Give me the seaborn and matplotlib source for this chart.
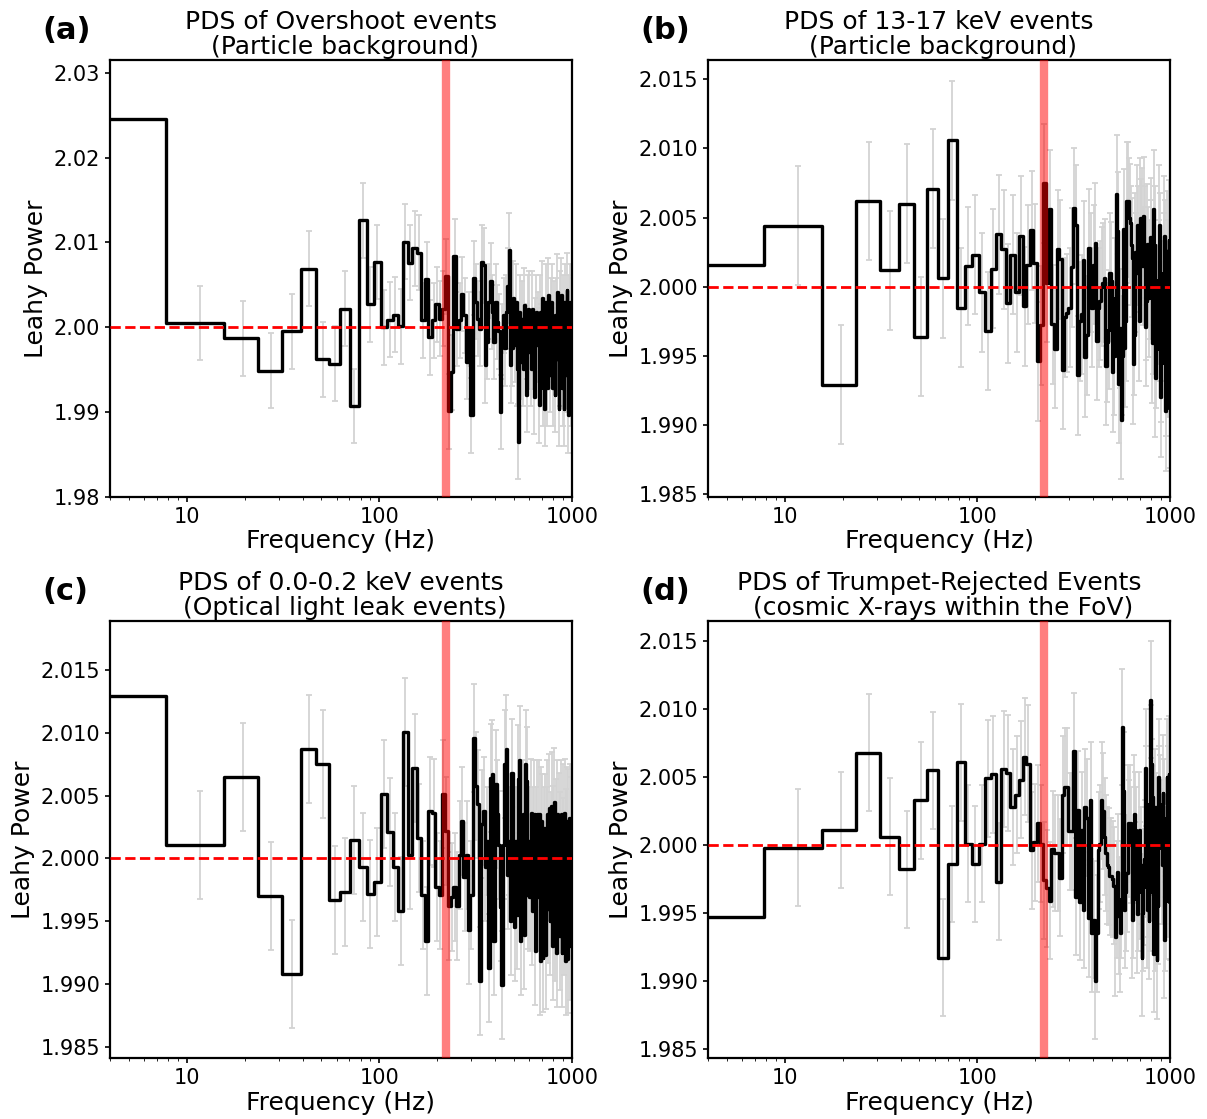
import numpy as np
import seaborn as sns
import matplotlib
matplotlib.use("Agg")
import matplotlib.pyplot as plt
from matplotlib.ticker import FormatStrFormatter, MultipleLocator, FuncFormatter

# frequency grid: 7.8125 Hz bins, values at bin centres
freq_res = 7.8125
n_bins = 128
freq = freq_res * (np.arange(n_bins) + 0.5)

# Leahy power per bin
pds_a = [2.0246, 2.0005, 1.9987, 1.9949, 1.9995, 2.0069, 1.9962, 1.9957,
         2.0022, 1.9907, 2.0126, 2.0027, 2.0077, 2.0000, 2.0009, 2.0015,
         2.0001, 2.0101, 2.0076, 2.0093, 2.0088, 2.0008, 2.0057, 1.9988,
         2.0008, 2.0027, 2.0010, 2.0022, 2.0060, 1.9901, 1.9947, 2.0084,
         1.9998, 2.0008, 2.0039, 2.0014, 1.9959, 1.9998, 1.9896, 2.0058,
         2.0030, 2.0010, 1.9998, 2.0077, 2.0073, 1.9955, 1.9983, 2.0030,
         2.0055, 2.0018, 1.9983, 2.0030, 2.0006, 1.9995, 1.9900, 1.9983,
         2.0014, 1.9975, 2.0018, 2.0049, 2.0091, 1.9955, 1.9975, 2.0034,
         1.9979, 2.0030, 1.9951, 1.9865, 2.0018, 1.9959, 2.0010, 1.9951,
         2.0026, 1.9983, 1.9920, 2.0018, 2.0022, 1.9971, 1.9951, 2.0022,
         1.9971, 1.9918, 1.9991, 2.0018, 1.9979, 1.9998, 1.9908, 2.0018,
         1.9983, 2.0034, 1.9928, 1.9991, 1.9904, 2.0030, 1.9971, 1.9928,
         2.0038, 1.9983, 1.9944, 2.0014, 2.0030, 1.9928, 1.9979, 2.0010,
         1.9920, 2.0014, 1.9963, 2.0042, 1.9983, 1.9904, 2.0022, 1.9951,
         2.0038, 1.9971, 1.9928, 2.0018, 1.9904, 2.0030, 1.9991, 1.9944,
         2.0044, 1.9959, 1.9896, 2.0018, 1.9983, 2.0030, 1.9928, 2.0014]

pds_b = [2.0016, 2.0044, 1.9929, 2.0062, 2.0012, 2.0060, 1.9964, 2.0071,
         2.0006, 2.0106, 1.9985, 2.0015, 2.0023, 1.9996, 1.9968, 2.0013,
         2.0038, 2.0027, 1.9988, 2.0023, 1.9996, 2.0037, 1.9986, 2.0016,
         2.0041, 2.0017, 1.9946, 1.9972, 2.0075, 2.0003, 2.0056, 1.9973,
         1.9955, 2.0027, 2.0020, 1.9940, 1.9978, 1.9981, 1.9985, 2.0014,
         2.0057, 2.0045, 1.9936, 1.9975, 1.9980, 2.0019, 1.9949, 1.9965,
         2.0028, 2.0010, 1.9985, 2.0016, 2.0032, 1.9961, 1.9985, 1.9990,
         2.0000, 2.0003, 2.0006, 1.9943, 1.9960, 1.9969, 2.0010, 2.0004,
         1.9938, 1.9950, 1.9992, 2.0067, 2.0040, 1.9930, 1.9970, 1.9904,
         1.9950, 2.0042, 1.9956, 1.9975, 2.0062, 2.0062, 2.0050, 2.0046,
         2.0030, 2.0021, 1.9944, 1.9965, 2.0025, 2.0010, 2.0045, 2.0030,
         1.9975, 2.0050, 2.0035, 2.0043, 2.0015, 2.0051, 2.0030, 1.9971,
         1.9990, 2.0031, 2.0015, 1.9992, 2.0005, 2.0036, 2.0020, 1.9959,
         1.9980, 2.0056, 2.0030, 1.9934, 1.9955, 1.9975, 1.9987, 2.0005,
         2.0045, 2.0025, 1.9920, 1.9945, 1.9975, 1.9990, 2.0010, 2.0037,
         2.0020, 1.9910, 1.9935, 2.0026, 2.0005, 1.9949, 2.0034, 1.9912]

pds_c = [2.0129, 2.0011, 2.0065, 1.9970, 1.9908, 2.0087, 2.0075, 1.9967,
         1.9973, 2.0015, 1.9993, 1.9972, 1.9981, 2.0051, 2.0021, 1.9993,
         1.9958, 2.0101, 2.0003, 2.0072, 2.0016, 1.9971, 1.9934, 2.0038,
         2.0036, 1.9977, 1.9971, 2.0051, 2.0022, 1.9962, 1.9969, 1.9977,
         1.9962, 2.0003, 2.0030, 1.9985, 2.0003, 1.9943, 1.9971, 2.0096,
         2.0058, 2.0043, 1.9902, 2.0027, 2.0038, 1.9993, 2.0014, 1.9913,
         2.0064, 2.0067, 1.9934, 2.0059, 2.0035, 2.0011, 1.9961, 1.9899,
         2.0011, 2.0075, 2.0087, 1.9987, 2.0014, 1.9950, 2.0068, 1.9998,
         1.9945, 2.0014, 1.9955, 2.0063, 2.0078, 1.9934, 1.9987, 2.0035,
         1.9939, 2.0075, 2.0062, 1.9971, 2.0014, 1.9969, 2.0036, 1.9958,
         2.0014, 2.0035, 1.9926, 2.0014, 2.0035, 1.9969, 2.0035, 1.9918,
         2.0030, 2.0024, 1.9921, 2.0014, 2.0024, 1.9923, 2.0014, 2.0035,
         1.9960, 2.0040, 1.9950, 2.0010, 2.0042, 1.9930, 2.0015, 2.0045,
         1.9945, 2.0020, 1.9925, 2.0035, 1.9990, 2.0025, 1.9938, 2.0010,
         2.0035, 1.9925, 2.0005, 2.0032, 1.9950, 2.0036, 1.9918, 2.0012,
         2.0030, 1.9920, 2.0028, 1.9965, 2.0032, 1.9930, 2.0022, 1.9960]

pds_d = [1.9947, 1.9998, 2.0011, 2.0068, 2.0006, 1.9982, 2.0033, 2.0055,
         1.9917, 1.9986, 2.0061, 2.0001, 1.9986, 2.0001, 2.0049, 2.0052,
         1.9973, 2.0056, 2.0053, 2.0028, 2.0037, 2.0048, 2.0065, 2.0060,
         1.9996, 2.0002, 2.0016, 2.0001, 1.9974, 1.9968, 1.9959, 1.9997,
         1.9994, 1.9994, 1.9976, 2.0037, 2.0043, 2.0043, 2.0010, 2.0010,
         2.0069, 1.9962, 2.0026, 1.9958, 2.0011, 1.9952, 2.0028, 2.0020,
         1.9946, 2.0033, 1.9935, 1.9945, 1.9900, 1.9935, 1.9996, 2.0001,
         2.0033, 2.0025, 2.0006, 1.9994, 1.9985, 1.9984, 1.9977, 1.9977,
         1.9975, 1.9970, 1.9932, 1.9960, 1.9980, 1.9948, 1.9935, 1.9960,
         2.0087, 2.0040, 1.9952, 1.9965, 1.9979, 2.0016, 2.0005, 2.0016,
         2.0000, 1.9945, 1.9960, 2.0023, 2.0011, 2.0000, 1.9949, 1.9965,
         2.0011, 1.9974, 1.9985, 1.9917, 1.9950, 1.9969, 1.9990, 2.0057,
         2.0030, 1.9952, 1.9975, 1.9944, 1.9965, 2.0107, 2.0060, 2.0035,
         2.0015, 1.9920, 1.9950, 2.0028, 2.0010, 1.9915, 1.9955, 2.0050,
         2.0030, 2.0023, 2.0005, 1.9998, 1.9985, 2.0038, 2.0020, 1.9930,
         1.9950, 1.9959, 1.9985, 2.0050, 2.0030, 1.9975, 2.0052, 1.9958]

# 1-sigma error on each bin (same for every bin of a panel)
err_a = 0.0044
err_b = 0.0043
err_c = 0.0043
err_d = 0.0043

titles = ["PDS of Overshoot events\n (Particle background)",
          "PDS of 13-17 keV events\n (Particle background)",
          "PDS of 0.0-0.2 keV events\n (Optical light leak events)",
          "PDS of Trumpet-Rejected Events\n (cosmic X-rays within the FoV)"]
panel_tags = ["(a)", "(b)", "(c)", "(d)"]
ylims = [(1.980, 2.0315), (1.9848, 2.0164), (1.9841, 2.0189), (1.9843, 2.0165)]
ytick_step = [0.01, 0.005, 0.005, 0.005]
ytick_fmt = ["%.2f", "%.3f", "%.3f", "%.3f"]

feature_freq = 223.0  # marked frequency

sns.set_style("ticks", {"axes.edgecolor": "black", "xtick.color": "black",
                        "ytick.color": "black", "text.color": "black",
                        "axes.labelcolor": "black"})
plt.rcParams["font.family"] = ["DejaVu Sans"]

fig = plt.figure(figsize=(12.07, 11.19), dpi=100)
positions = [[0.0911, 0.5559, 0.3828, 0.3905],
             [0.5866, 0.5559, 0.3828, 0.3905],
             [0.0911, 0.0545, 0.3828, 0.3905],
             [0.5866, 0.0545, 0.3828, 0.3905]]

all_pds = [pds_a, pds_b, pds_c, pds_d]
all_err = [err_a, err_b, err_c, err_d]

for i in range(4):
    ax = fig.add_axes(positions[i])
    vals = np.array(all_pds[i])
    # grey error bars under the step curve
    ax.errorbar(freq, vals, yerr=all_err[i], fmt="none", ecolor="lightgray",
                elinewidth=1.3, capsize=2, capthick=1.3, zorder=1)
    sns.lineplot(x=freq, y=vals, ax=ax, color="black", linewidth=2.4,
                 drawstyle="steps-mid", estimator=None, sort=False, zorder=2)
    ax.axhline(2.0, color="red", linestyle="--", linewidth=2, zorder=3)
    ax.axvline(feature_freq, color="red", alpha=0.5, linewidth=6, zorder=4)

    ax.set_xscale("log")
    ax.set_xlim(4, 1000)
    ax.set_ylim(*ylims[i])
    ax.xaxis.set_major_formatter(FuncFormatter(lambda v, p: "%d" % v))
    ax.yaxis.set_major_locator(MultipleLocator(ytick_step[i]))
    ax.yaxis.set_major_formatter(FormatStrFormatter(ytick_fmt[i]))
    ax.tick_params(labelsize=15, width=1.2)
    for s in ax.spines.values():
        s.set_linewidth(1.6)
        s.set_color("black")

    ax.set_xlabel("Frequency (Hz)", fontsize=18, labelpad=2)
    ax.set_ylabel("Leahy Power", fontsize=18)
    ax.set_title(titles[i], fontsize=18, pad=4, linespacing=1.1)
    ax.text(-0.147, 1.035, panel_tags[i], transform=ax.transAxes,
            fontsize=22, fontweight="bold", ha="left", va="bottom")

fig.savefig("out.png", dpi=100)
